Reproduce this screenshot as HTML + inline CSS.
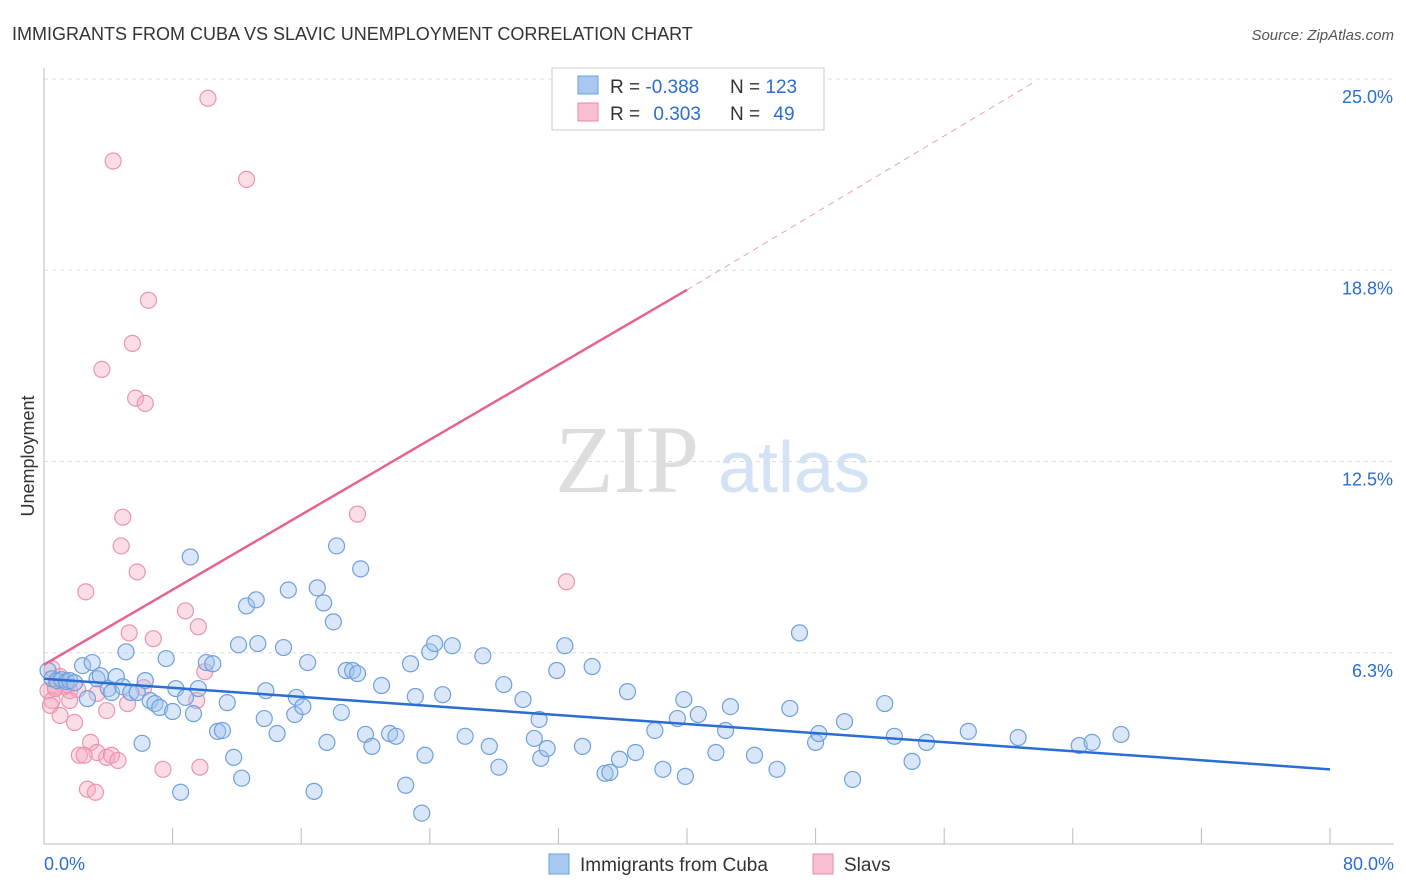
<!DOCTYPE html>
<html><head><meta charset="utf-8"><style>
body{margin:0;background:#fff;font-family:"Liberation Sans",sans-serif;}
#wrap{position:relative;width:1406px;height:892px;overflow:hidden;}
</style></head><body>
<div id="wrap">
<svg id="svg" width="1406" height="892" xmlns="http://www.w3.org/2000/svg">
<text x="12" y="40" font-size="18" fill="#333">IMMIGRANTS FROM CUBA VS SLAVIC UNEMPLOYMENT CORRELATION CHART</text>
<text x="1394" y="40" font-size="15" fill="#555" font-style="italic" text-anchor="end">Source: ZipAtlas.com</text>
<text x="555" y="492" font-size="96" fill="#ddd" font-family="Liberation Serif">ZIP</text>
<text x="718" y="492" font-size="72" fill="#d3e2f4">atlas</text>
<text transform="translate(34,456) rotate(-90)" font-size="18" fill="#333" text-anchor="middle">Unemployment</text>
<g id="grid"></g>
<g id="axes"></g>
<g id="pink"></g>
<g id="blue"></g>
<g id="trends"></g>
<g>
<rect x="552" y="68" width="272" height="62" fill="#fff" stroke="#ccc"/>
<rect x="578" y="76" width="20" height="18" fill="#a9c8ef" stroke="#6a9fdc"/>
<rect x="578" y="103" width="20" height="18" fill="#f8c0d0" stroke="#e88aa6"/>
<text x="610" y="93" font-size="19" fill="#333">R = <tspan fill="#2a6dd4">-0.388</tspan></text>
<text x="730" y="93" font-size="19" fill="#333">N = <tspan fill="#2a6dd4">123</tspan></text>
<text x="610" y="120" font-size="19" fill="#333">R = <tspan fill="#2a6dd4" dx="8">0.303</tspan></text>
<text x="730" y="120" font-size="19" fill="#333">N = <tspan fill="#2a6dd4" dx="8">49</tspan></text>
</g>
<g>
<rect x="549" y="854" width="20" height="20" fill="#a9c8ef" stroke="#6a9fdc"/>
<text x="580" y="871" font-size="19" fill="#333">Immigrants from Cuba</text>
<rect x="813" y="854" width="20" height="20" fill="#f8c0d0" stroke="#e88aa6"/>
<text x="844" y="871" font-size="19" fill="#333">Slavs</text>
</g>
</svg>
</div>
<script>
const xTicks=[0,8,16,24,32,40,48,56,64,72,80];
const yTicks=[6.25,12.5,18.75,25];
const yTickLabels=["6.3%","12.5%","18.8%","25.0%"];
const xEndLabels=["0.0%","80.0%"];
const cubaX=[0.25,0.5,0.8,1.1,1.4,1.6,1.9,2.4,2.7,3.0,3.3,3.5,4.0,4.2,4.5,4.9,5.1,5.4,5.8,6.1,6.3,6.6,6.9,7.2,7.6,8.0,8.2,8.5,8.8,9.1,9.3,9.6,10.1,10.5,10.8,11.1,11.4,11.8,12.1,12.3,12.6,13.2,13.3,13.7,13.8,14.5,14.9,15.2,15.6,15.7,16.1,16.4,16.8,17.0,17.4,17.6,18.0,18.2,18.5,18.8,19.2,19.5,19.7,20.0,20.4,21.0,21.5,21.9,22.5,22.8,23.1,23.5,23.7,24.0,24.3,24.8,25.4,26.2,27.3,27.7,28.3,28.6,29.8,30.5,30.8,30.9,31.3,31.9,32.4,33.5,34.1,34.9,35.2,35.8,36.3,36.8,38.0,38.5,39.4,39.8,39.9,40.7,41.8,42.4,42.7,44.2,45.6,46.4,47.0,48.0,48.2,49.8,50.3,52.3,52.9,54.0,54.9,57.5,60.6,64.4,65.2,67.0];
const cubaY=[5.67,5.40,5.34,5.37,5.31,5.34,5.27,5.83,4.75,5.93,5.40,5.50,5.08,4.95,5.47,5.14,6.28,4.95,4.95,3.29,5.34,4.69,4.59,4.46,6.06,4.33,5.08,1.69,4.79,9.38,4.26,5.08,5.93,5.89,3.68,3.71,4.62,2.83,6.51,2.15,7.78,7.98,6.55,4.10,5.01,3.61,6.42,8.30,4.23,4.79,4.49,5.93,1.72,8.37,7.88,3.32,7.26,9.74,4.30,5.67,5.67,5.57,8.99,3.58,3.19,5.18,3.61,3.52,1.92,5.89,4.82,1.01,2.90,6.28,6.55,4.88,6.48,3.52,6.15,3.19,2.51,5.21,4.72,3.45,4.07,2.80,3.12,5.67,6.48,3.19,5.80,2.31,2.34,2.77,4.98,2.99,3.71,2.44,4.10,4.72,2.21,4.23,2.99,3.71,4.49,2.90,2.44,4.43,6.90,3.32,3.61,4.00,2.11,4.59,3.52,2.70,3.32,3.68,3.48,3.22,3.32,3.58];
const slavX=[10.2,4.3,12.6,6.5,5.5,3.6,5.7,6.3,19.5,4.9,4.8,5.8,32.5,2.6,8.8,9.6,5.3,6.8,10.0,0.5,1.0,0.25,0.7,1.3,1.6,2.1,0.5,0.4,1.6,3.3,6.2,5.2,9.5,1.0,1.9,3.9,2.9,3.3,2.2,2.5,3.9,4.2,4.6,7.4,9.7,2.7,3.2,0.7,1.4];
const slavY=[24.37,22.32,21.72,17.77,16.36,15.51,14.57,14.40,10.78,10.68,9.74,8.89,8.57,8.24,7.62,7.10,6.90,6.71,5.63,5.73,5.47,5.01,5.14,5.14,5.01,5.05,4.69,4.53,4.69,4.92,5.11,4.59,4.69,4.20,3.97,4.36,3.32,2.99,2.90,2.90,2.83,2.90,2.73,2.44,2.51,1.79,1.69,5.08,5.21];
const cubaTrend=[[0,5.40],[80,2.44]];
const slavTrendSolid=[[0,5.86],[40,18.11]];
const slavTrendDash=[[40,18.11],[61.6,24.9]];
const X0=44,X1=1330,YB=844,PXY=30.6;
const sx=v=>X0+v*(X1-X0)/80;
const sy=v=>YB-v*PXY;
const NS="http://www.w3.org/2000/svg";
function mk(tag,attrs,parent){const e=document.createElementNS(NS,tag);for(const k in attrs)e.setAttribute(k,attrs[k]);parent.appendChild(e);return e;}
const grid=document.getElementById('grid'),axes=document.getElementById('axes');
yTicks.forEach((t,i)=>{
 const l=mk('line',{x1:44,x2:1394,y1:sy(t),y2:sy(t),stroke:'#ddd','stroke-dasharray':'4,4'},grid);
 
 
 const tx=mk('text',{x:1393,y:sy(t)+24,'font-size':18,fill:'#2a6dd4','text-anchor':'end'},axes);
 tx.textContent=yTickLabels[i];
 
 
});
const yl=mk('line',{x1:44,x2:44,y1:68,y2:844,stroke:'#bbb'},axes);


const xl=mk('line',{x1:44,x2:1394,y1:844,y2:844,stroke:'#bbb'},axes);


xTicks.forEach(t=>{
 const l=mk('line',{x1:sx(t),x2:sx(t),y1:828,y2:844,stroke:'#bbb'},axes);
 
 
});
const xa=mk('text',{x:44,y:870,'font-size':18,fill:'#2a6dd4'},axes);
xa.textContent=xEndLabels[0];


const xb=mk('text',{x:1394,y:870,'font-size':18,fill:'#2a6dd4','text-anchor':'end'},axes);
xb.textContent=xEndLabels[1];


const pg=document.getElementById('pink');
slavX.forEach((x,i)=>{
 const c=mk('circle',{cx:sx(x),cy:sy(slavY[i]),r:8,fill:'rgba(244,170,192,0.4)',stroke:'#ec94ae','stroke-width':1.2},pg);
 
 
});
const bg=document.getElementById('blue');
cubaX.forEach((x,i)=>{
 const c=mk('circle',{cx:sx(x),cy:sy(cubaY[i]),r:8,fill:'rgba(160,195,238,0.4)',stroke:'#6fa0dc','stroke-width':1.2},bg);
 
 
});
const tg=document.getElementById('trends');
const t1=mk('line',{x1:sx(cubaTrend[0][0]),y1:sy(cubaTrend[0][1]),x2:sx(cubaTrend[1][0]),y2:sy(cubaTrend[1][1]),stroke:'#2a6dd4','stroke-width':2.5},tg);


const t2=mk('line',{x1:sx(slavTrendSolid[0][0]),y1:sy(slavTrendSolid[0][1]),x2:sx(slavTrendSolid[1][0]),y2:sy(slavTrendSolid[1][1]),stroke:'#e8638f','stroke-width':2.5},tg);


const t3=mk('line',{x1:sx(slavTrendDash[0][0]),y1:sy(slavTrendDash[0][1]),x2:sx(slavTrendDash[1][0]),y2:sy(slavTrendDash[1][1]),stroke:'#eaa0b8','stroke-width':1,'stroke-dasharray':'6,5'},tg);


</script>
</body></html>
